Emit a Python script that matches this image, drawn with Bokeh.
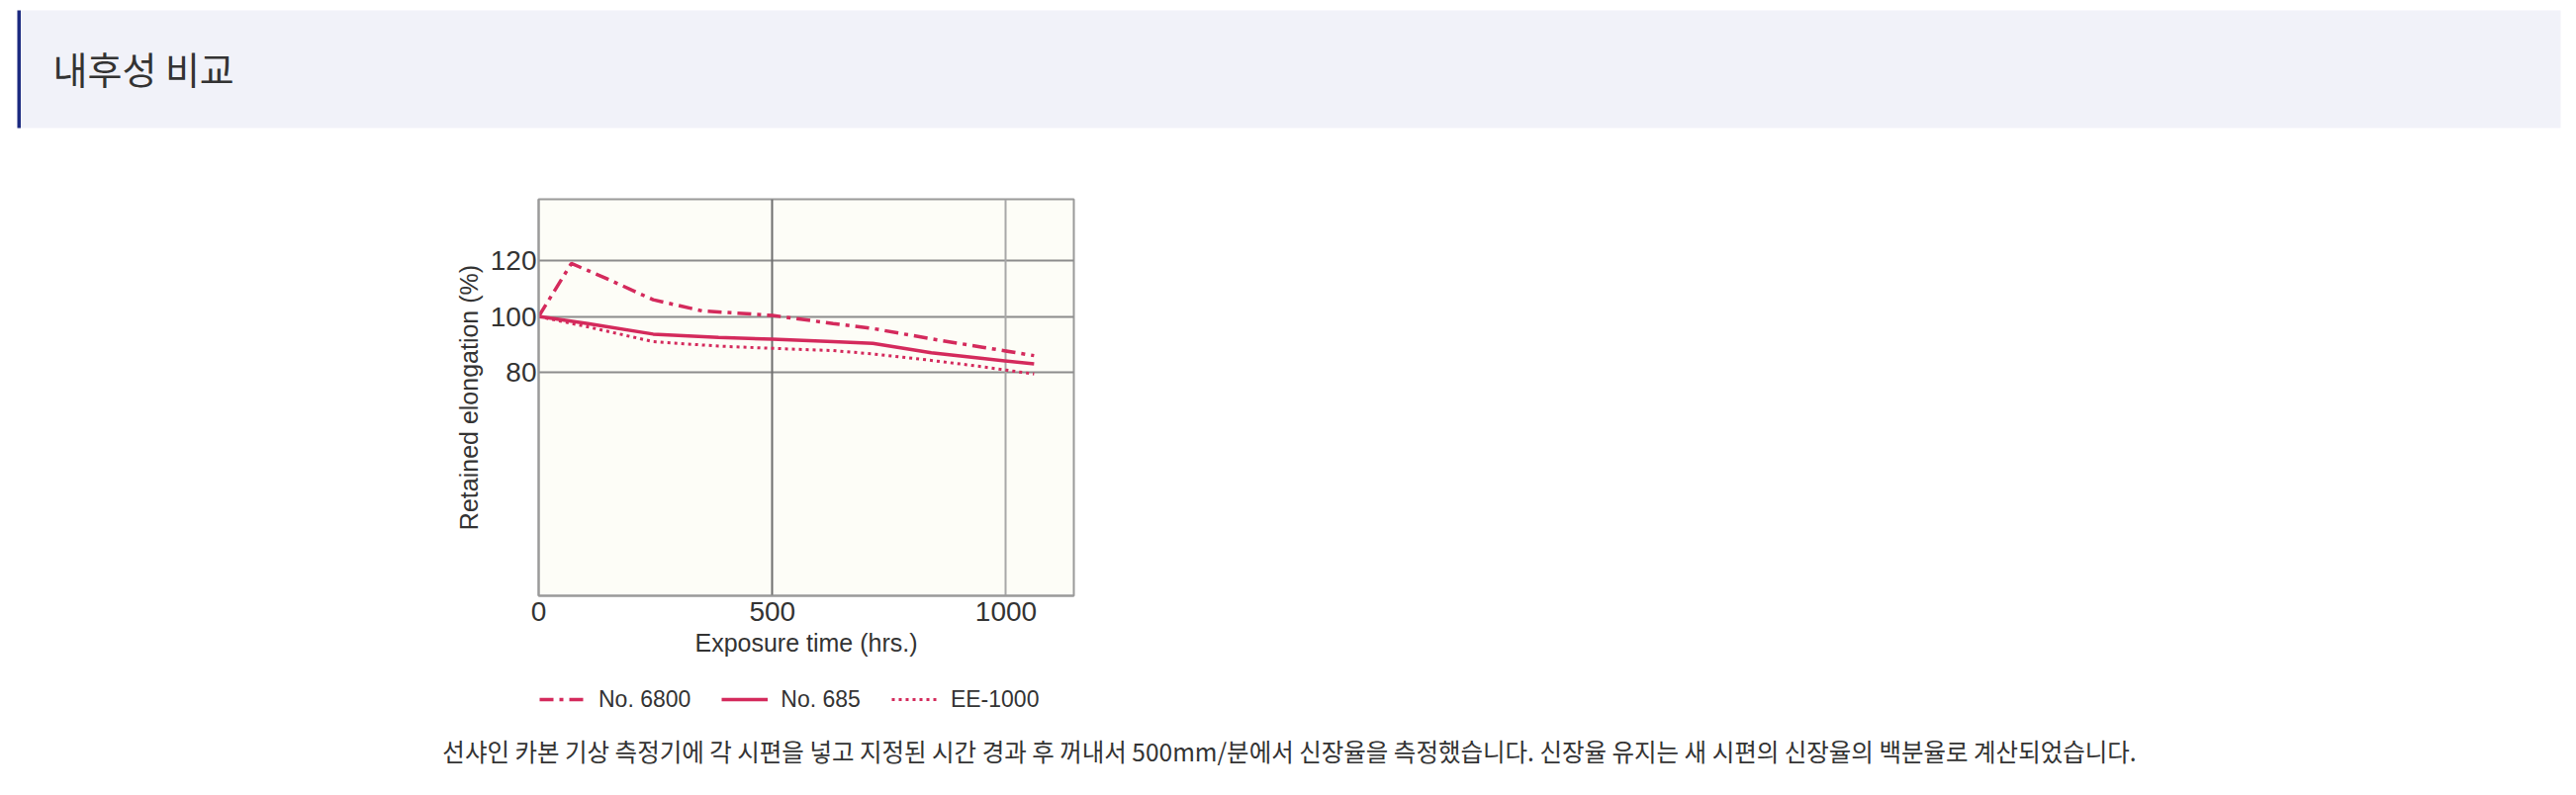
from bokeh.plotting import figure
from bokeh.models import Range1d, FixedTicker, Grid, Legend, LegendItem
from bokeh.layouts import column
from bokeh.embed import file_html
from bokeh.resources import INLINE
from bokeh.core.properties import value

# ---------------- data ----------------
title_text = "내후성 비교"
caption_text = ("선샤인 카본 기상 측정기에 각 시편을 넣고 지정된 시간 경과 후 꺼내서 500mm/분에서 "
                "신장율을 측정했습니다. 신장율 유지는 새 시편의 신장율의 백분율로 계산되었습니다.")
x_label = "Exposure time (hrs.)"
y_label = "Retained elongation (%)"
x_ticks = [0, 500, 1000]
y_ticks = [80, 100, 120]

series_names = ["No. 6800", "No. 685", "EE-1000"]
t_6800 = [0, 70, 140, 245, 350, 500, 630, 715, 840, 950, 1060]
v_6800 = [100, 119, 114, 106, 102, 100.4, 97.5, 95.7, 92, 89, 86]
t_685 = [0, 105, 245, 385, 500, 630, 715, 840, 950, 1060]
v_685 = [100, 97.5, 93.7, 92.5, 91.9, 91, 90.4, 87, 85, 83]
t_ee = [0, 105, 245, 385, 500, 630, 715, 840, 950, 1060]
v_ee = [100, 96.3, 91, 89.4, 88.6, 87.8, 86.6, 84.3, 82, 79.4]

# ---------------- styles ----------------
W = 2600
LINE_C = "#d42a5c"
TXT_C = "#333333"
LAT = "Liberation Sans"
KR = "Noto Sans CJK KR"
STYLES = [dict(line_width=3.5, line_dash="14 6 4 6"),
          dict(line_width=3.5, line_dash="solid"),
          dict(line_width=3, line_dash="3 4")]
SERIES = list(zip([t_6800, t_685, t_ee], [v_6800, v_685, v_ee], STYLES))


def blank_fig(h, y_range=None):
    f = figure(width=W, height=h, x_range=Range1d(0, W),
               y_range=y_range if y_range is not None else Range1d(h, 0),
               toolbar_location=None, output_backend="svg", min_border=0,
               x_axis_location=None, y_axis_location=None, outline_line_color=None,
               background_fill_color="white", border_fill_color="white")
    f.frame_align = False
    f.grid.visible = False
    return f


# ---------------- header ----------------
H1 = 140
header = blank_fig(H1)
header.quad(left=[17], right=[2588], top=[10], bottom=[129], fill_color="#f1f2f9", line_color=None)
header.quad(left=[17], right=[20.5], top=[10], bottom=[129], fill_color="#1c2a80", line_color=None)
header.text(x=[53], y=[68], text=[title_text], text_font=value(KR), text_font_size="38px",
            text_color=TXT_C, text_baseline="middle", text_align="left")

# ---------------- chart ----------------
H2 = 540
p = figure(width=W, height=H2, x_range=Range1d(0, 1145), y_range=Range1d(0, 142),
           toolbar_location=None, output_backend="svg",
           min_border_left=544, min_border_right=W - 1085, min_border_top=61, min_border_bottom=78,
           background_fill_color="#fdfdf7", border_fill_color="white",
           outline_line_color="#9a9a9a", outline_line_width=2)
p.frame_align = False

p.xaxis.ticker = FixedTicker(ticks=x_ticks)
p.yaxis.ticker = FixedTicker(ticks=y_ticks)
p.xgrid.visible = False
p.ygrid.grid_line_color = "#8c8c8c"
p.ygrid.grid_line_width = 2
p.add_layout(Grid(dimension=0, ticker=FixedTicker(ticks=[500]), grid_line_color="#6e6e6e", grid_line_width=2))
p.add_layout(Grid(dimension=0, ticker=FixedTicker(ticks=[1000]), grid_line_color="#a8a8a8", grid_line_width=2))

for ax in (p.xaxis[0], p.yaxis[0]):
    ax.axis_line_color = "#9a9a9a"
    ax.axis_line_width = 2
    ax.major_tick_line_color = None
    ax.minor_tick_line_color = None
    ax.major_tick_out = 0
    ax.major_tick_in = 0
    ax.major_label_text_font = LAT
    ax.major_label_text_font_size = "28px"
    ax.major_label_text_color = TXT_C
    ax.axis_label_text_font = LAT
    ax.axis_label_text_font_size = "25px"
    ax.axis_label_text_font_style = "normal"
    ax.axis_label_text_color = TXT_C

p.xaxis.axis_label = x_label
p.yaxis.axis_label = y_label
p.xaxis.major_label_standoff = 6
p.xaxis.axis_label_standoff = 5
p.yaxis.major_label_standoff = 2
p.yaxis.axis_label_standoff = 5

for t, v, st in SERIES:
    p.line(t, v, line_color=LINE_C, **st)

# ---------------- legend (own strip; same series, kept out of its view range) ----------------
H3 = 50
leg = blank_fig(H3, y_range=Range1d(0, 1))
items = []
for name, (t, v, st) in zip(series_names, SERIES):
    r = leg.line(t, v, line_color=LINE_C, **st)
    items.append(LegendItem(label=name, renderers=[r]))
legend = Legend(items=items, orientation="horizontal", location=(545, 9.5),
                label_text_font=LAT, label_text_font_size="23px", label_text_color=TXT_C,
                glyph_width=47, glyph_height=24, label_height=24, label_standoff=13,
                spacing=31, padding=0, margin=0,
                background_fill_alpha=0, border_line_color=None)
leg.add_layout(legend)

# ---------------- caption ----------------
H4 = 800 - H1 - H2 - H3
cap = blank_fig(H4)
cap.text(x=[1303], y=[28.5], text=[caption_text], text_font=value(KR), text_font_size="24.5px",
         text_color=TXT_C, text_baseline="middle", text_align="center")

layout = column(header, p, leg, cap, spacing=0)
open("out.html", "w").write(file_html(layout, INLINE))
